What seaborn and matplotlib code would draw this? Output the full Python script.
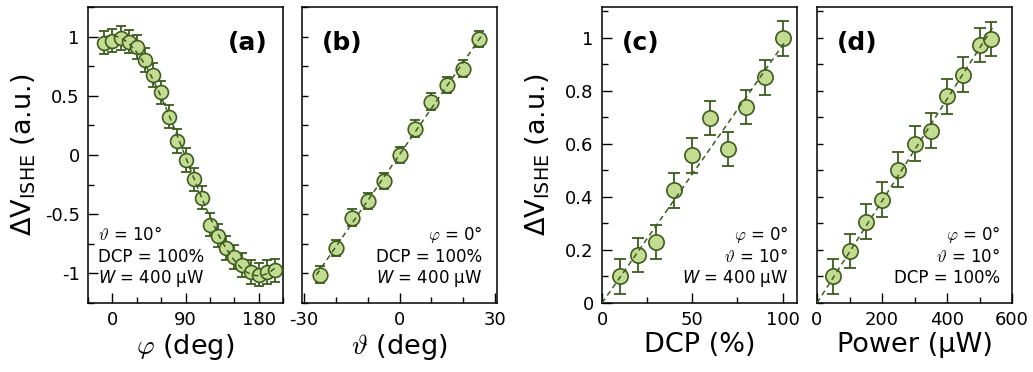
import numpy as np
import pandas as pd
import matplotlib
matplotlib.use("Agg")
import matplotlib.pyplot as plt
import seaborn as sns

# ---------------- data ----------------
phi_deg = [-10, 0, 10, 20, 30, 40, 50, 60, 70, 80, 90, 100, 110, 120, 130,
           140, 150, 160, 170, 180, 190, 200]
v_phi = [0.95, 0.966, 0.986, 0.958, 0.91, 0.805, 0.675, 0.528, 0.325, 0.12,
         -0.045, -0.206, -0.36, -0.588, -0.68, -0.785, -0.86, -0.93, -0.99,
         -1.01, -0.99, -0.975]
err_phi = 0.10

theta_deg = [-25, -20, -15, -10, -5, 0, 5, 10, 15, 20, 25]
v_theta = [-1.01, -0.785, -0.53, -0.39, -0.22, 0.0, 0.223, 0.45, 0.59, 0.73, 0.98]
err_theta = 0.07

dcp_pct = [10, 20, 30, 40, 50, 60, 70, 80, 90, 100]
v_dcp = [0.10, 0.18, 0.23, 0.424, 0.556, 0.696, 0.58, 0.738, 0.85, 0.997]
err_dcp = 0.065

power_uw = [50, 100, 150, 200, 250, 300, 350, 400, 450, 500, 535]
v_power = [0.10, 0.195, 0.307, 0.389, 0.502, 0.60, 0.649, 0.778, 0.86, 0.972, 0.995]
err_power = 0.065

# ---------------- style ----------------
sns.set_style("ticks")
plt.rcParams["font.family"] = ["DejaVu Sans"]
plt.rcParams["mathtext.fontset"] = "dejavusans"
plt.rcParams["axes.unicode_minus"] = False
plt.rcParams["text.color"] = "black"
plt.rcParams["axes.labelcolor"] = "black"
plt.rcParams["xtick.color"] = "black"
plt.rcParams["ytick.color"] = "black"
plt.rcParams["axes.edgecolor"] = "black"

FACE = "#c4dc92"
EDGE = "#3d5c1f"

W, H = 1033, 372
fig = plt.figure(figsize=(W / 100, H / 100), dpi=100)


def add_axes(l, r, top=7, bottom=303):
    return fig.add_axes([l / W, (H - bottom) / H, (r - l) / W, (bottom - top) / H])


def style_axes(ax):
    for s in ax.spines.values():
        s.set_linewidth(1.1)
        s.set_color("black")
    ax.tick_params(which="both", direction="in", top=False, right=False,
                   colors="black")
    ax.tick_params(which="major", length=7, width=1.0, labelsize=13, pad=6)
    ax.tick_params(which="minor", length=4.5, width=1.0)


def draw(ax, x, y, err, fx, fy, msize=10, cap=3.5):
    df = pd.DataFrame({"x": x, "y": y})
    ax.errorbar(df["x"], df["y"], yerr=err, fmt="none", ecolor=EDGE,
                elinewidth=1.3, capsize=cap, capthick=1.3, zorder=2)
    sns.scatterplot(data=df, x="x", y="y", ax=ax, s=msize ** 2, color=FACE,
                    edgecolor=EDGE, linewidth=1.2, zorder=3, legend=False)
    fit = pd.DataFrame({"x": fx, "y": fy})
    sns.lineplot(data=fit, x="x", y="y", ax=ax, color=EDGE, lw=1.1,
                 linestyle=(0, (3.5, 2.5)), zorder=4, legend=False)
    ax.set_xlabel("")
    ax.set_ylabel("")


def annot(ax, lines, ha, xfrac):
    ys = [0.213, 0.139, 0.068]
    for (txt, mf), yy in zip(lines, ys):
        ax.text(xfrac, yy, txt, transform=ax.transAxes, ha=ha, va="baseline",
                fontsize=12, math_fontfamily=mf, color="black")


def panel_label(ax, txt, ha, xfrac):
    ax.text(xfrac, 0.878, txt, transform=ax.transAxes, ha=ha, va="center",
            fontsize=18, fontweight="bold", color="black")


ylab = r"$\Delta$V$_{\mathrm{ISHE}}$ (a.u.)"

# ---------------- panel (a) ----------------
axa = add_axes(88, 283)
p = np.deg2rad(np.array(phi_deg, dtype=float))
A = np.column_stack([np.ones_like(p), np.cos(p), np.sin(p)])
coef, *_ = np.linalg.lstsq(A, np.array(v_phi), rcond=None)
fx = np.linspace(min(phi_deg), max(phi_deg), 200)
fr = np.deg2rad(fx)
fy = coef[0] + coef[1] * np.cos(fr) + coef[2] * np.sin(fr)
draw(axa, phi_deg, v_phi, err_phi, fx, fy, msize=10, cap=3.5)
axa.set_xlim(-30, 210)
axa.set_ylim(-1.25, 1.25)
axa.set_xticks([0, 90, 180])
axa.set_xticks(np.arange(-30, 211, 30), minor=True)
axa.set_yticks([-1, -0.5, 0, 0.5, 1])
axa.set_yticklabels(["-1", "-0.5", "0", "0.5", "1"])
axa.set_yticks(np.arange(-1.25, 1.26, 0.25), minor=True)
style_axes(axa)
axa.set_xlabel(r"$\varphi$ (deg)", fontsize=19.5, math_fontfamily="cm", labelpad=2)
axa.set_ylabel(ylab, fontsize=19.5)
axa.yaxis.set_label_coords(-0.255, 0.5)
panel_label(axa, "(a)", "right", 0.92)
annot(axa, [(r"$\vartheta$ = 10°", "cm"), ("DCP = 100%", "dejavusans"),
            (r"$W$ = 400 µW", "dejavusans")], "left", 0.05)

# ---------------- panel (b) ----------------
axb = add_axes(302, 497)
m, b = np.polyfit(theta_deg, v_theta, 1)
fx = np.linspace(-26, 26, 50)
draw(axb, theta_deg, v_theta, err_theta, fx, m * fx + b, msize=10.5, cap=3.5)
axb.set_xlim(-30.5, 30.5)
axb.set_ylim(-1.25, 1.25)
axb.set_xticks([-30, 0, 30])
axb.set_xticklabels(["-30", "0", "30"])
axb.set_xticks(np.arange(-30, 31, 10), minor=True)
axb.set_yticks([-1, -0.5, 0, 0.5, 1])
axb.set_yticks(np.arange(-1.25, 1.26, 0.25), minor=True)
axb.set_yticklabels([])
style_axes(axb)
axb.tick_params(which="major", axis="y", length=4.5)
axb.set_xlabel(r"$\vartheta$ (deg)", fontsize=19.5, math_fontfamily="cm", labelpad=2)
panel_label(axb, "(b)", "left", 0.10)
annot(axb, [(r"$\varphi$ = 0°", "cm"), ("DCP = 100%", "dejavusans"),
            (r"$W$ = 400 µW", "dejavusans")], "right", 0.925)

# ---------------- panel (c) ----------------
axc = add_axes(602, 797)
xc = np.array(dcp_pct, float)
kc = np.sum(xc * np.array(v_dcp)) / np.sum(xc ** 2)
fx = np.linspace(0, 102, 50)
draw(axc, dcp_pct, v_dcp, err_dcp, fx, kc * fx, msize=11, cap=4.5)
axc.set_xlim(0, 108)
axc.set_ylim(0, 1.115)
axc.set_xticks([0, 50, 100])
axc.set_xticks(np.arange(0, 101, 25), minor=True)
axc.set_yticks([0, 0.2, 0.4, 0.6, 0.8, 1])
axc.set_yticklabels(["0", "0.2", "0.4", "0.6", "0.8", "1"])
axc.set_yticks(np.arange(0, 1.11, 0.1), minor=True)
style_axes(axc)
axc.set_xlabel("DCP (%)", fontsize=19.5, labelpad=2)
axc.set_ylabel(ylab, fontsize=19.5)
axc.yaxis.set_label_coords(-0.255, 0.5)
panel_label(axc, "(c)", "left", 0.10)
annot(axc, [(r"$\varphi$ = 0°", "cm"), (r"$\vartheta$ = 10°", "cm"),
            (r"$W$ = 400 µW", "dejavusans")], "right", 0.955)

# ---------------- panel (d) ----------------
axd = add_axes(817, 1012)
xd = np.array(power_uw, float)
kd = np.sum(xd * np.array(v_power)) / np.sum(xd ** 2)
fx = np.linspace(0, 545, 50)
draw(axd, power_uw, v_power, err_power, fx, kd * fx, msize=11, cap=4.5)
axd.set_xlim(0, 600)
axd.set_ylim(0, 1.115)
axd.set_xticks([0, 200, 400, 600])
axd.set_xticks(np.arange(0, 601, 100), minor=True)
axd.set_yticks([0, 0.2, 0.4, 0.6, 0.8, 1])
axd.set_yticks(np.arange(0, 1.11, 0.1), minor=True)
axd.set_yticklabels([])
style_axes(axd)
axd.tick_params(which="major", axis="y", length=4.5)
axd.set_xlabel("Power (µW)", fontsize=19.5, labelpad=2)
panel_label(axd, "(d)", "left", 0.10)
annot(axd, [(r"$\varphi$ = 0°", "cm"), (r"$\vartheta$ = 10°", "cm"),
            ("DCP = 100%", "dejavusans")], "right", 0.94)

fig.savefig("out.png", dpi=100)
